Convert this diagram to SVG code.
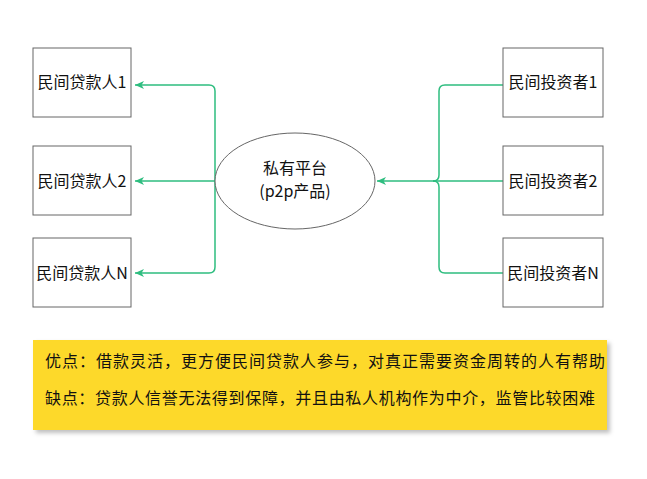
<svg xmlns="http://www.w3.org/2000/svg" width="647" height="479" viewBox="0 0 647 479">
<style>
.n{fill:#fff;stroke:#666;stroke-width:1}
.t{font-family:"Noto Sans CJK SC","Noto Sans",sans-serif;font-size:16px;fill:#111}
.c{fill:none;stroke:#2ebd7f;stroke-width:1.5}
</style>
<defs>
<marker id="a" markerWidth="10" markerHeight="10" refX="9" refY="5" orient="auto" markerUnits="userSpaceOnUse"><path d="M0,1 L9,5 L0,9 L2.5,5 Z" fill="#2ebd7f"/></marker>
<filter id="s" x="-5%" y="-10%" width="115%" height="130%"><feDropShadow dx="3" dy="3" stdDeviation="2" flood-color="#000" flood-opacity="0.25"/></filter>
</defs>
<rect width="647" height="479" fill="#fff"/>
<g id="connectors">
<path class="c" d="M215,181 L215,91 Q215,85 209,85 L135,85" marker-end="url(#a)"/>
<path class="c" d="M215,181 L135,181" marker-end="url(#a)"/>
<path class="c" d="M215,181 L215,267 Q215,273 209,273 L135,273" marker-end="url(#a)"/>
<path class="c" d="M503,85 L445,85 Q439,85 439,91 L439,175 Q439,181 433,181"/>
<path class="c" d="M503,273 L445,273 Q439,273 439,267 L439,187 Q439,181 433,181"/>
<path class="c" d="M503,181 L377,181" marker-end="url(#a)"/>
</g>
<g id="l1"><rect class="n" x="33" y="48" width="98" height="69"/><text class="t" x="82" y="88" text-anchor="middle">民间贷款人1</text></g>
<g id="l2"><rect class="n" x="33" y="146" width="98" height="69"/><text class="t" x="82" y="187" text-anchor="middle">民间贷款人2</text></g>
<g id="l3"><rect class="n" x="33" y="238" width="98" height="69"/><text class="t" x="82" y="279" text-anchor="middle">民间贷款人N</text></g>
<g id="r1"><rect class="n" x="503" y="48" width="100" height="69"/><text class="t" x="553" y="88" text-anchor="middle">民间投资者1</text></g>
<g id="r2"><rect class="n" x="503" y="146" width="100" height="69"/><text class="t" x="553" y="187" text-anchor="middle">民间投资者2</text></g>
<g id="r3"><rect class="n" x="503" y="238" width="100" height="69"/><text class="t" x="553" y="279" text-anchor="middle">民间投资者N</text></g>
<g id="platform"><ellipse cx="295" cy="181" rx="80" ry="48" fill="#fff" stroke="#666"/><text class="t" x="295" y="174" text-anchor="middle">私有平台</text><text class="t" x="295" y="197" text-anchor="middle">(p2p产品)</text></g>
<g id="note"><rect x="33" y="340" width="574" height="90" fill="#fdd92a" filter="url(#s)"/>
<text class="t" x="45" y="367" textLength="560">优点：借款灵活，更方便民间贷款人参与，对真正需要资金周转的人有帮助</text>
<text class="t" x="45" y="404" textLength="550">缺点：贷款人信誉无法得到保障，并且由私人机构作为中介，监管比较困难</text></g>
</svg>
